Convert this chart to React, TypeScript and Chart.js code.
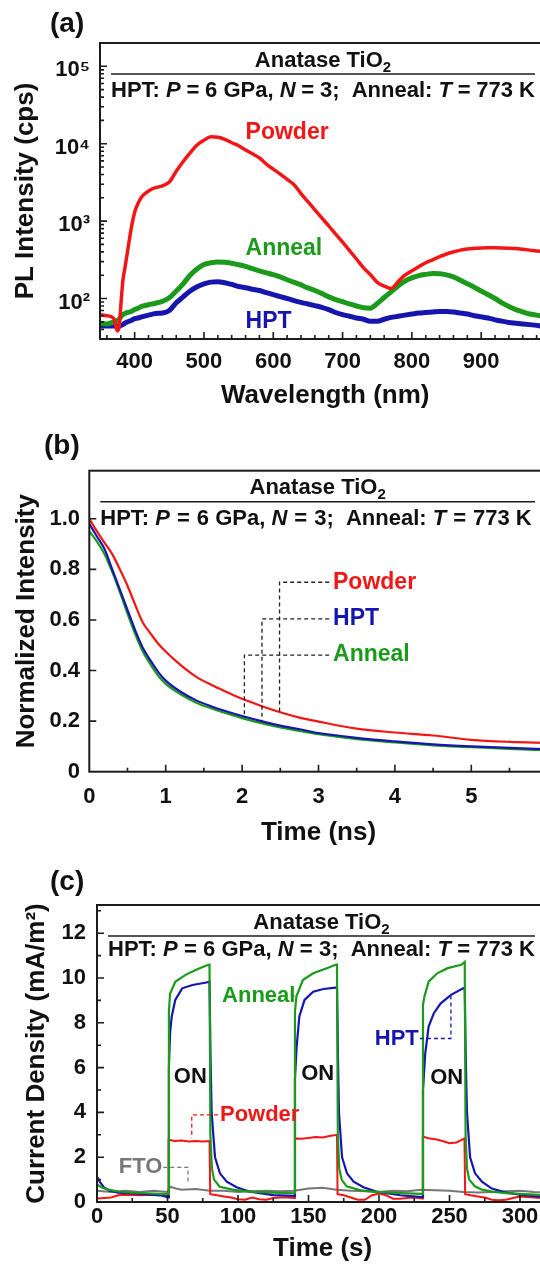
import React, { useEffect, useRef } from 'react';
import { Chart, registerables } from 'chart.js';

Chart.register(...registerables);

const FONT = "'Liberation Sans', Arial, Helvetica, sans-serif";
const RED = '#f21616';
const GREEN = '#1b9a1b';
const BLUE = '#1616ae';
const GRAY = '#777777';
const INK = '#111111';

// ---------- Panel (a): PL spectra ----------
const WAVELENGTH_NM = [350, 360, 370, 375, 378, 380, 383, 386, 390, 395, 400, 405, 410,
  420, 430, 440, 450, 460, 470, 480, 490, 500, 510, 520, 530, 540, 550, 560, 570, 580, 590, 600, 610,
  620, 630, 640, 650, 660, 670, 680, 690, 700, 710, 720, 730, 740, 750, 760, 770, 780, 790, 800, 810,
  820, 830, 840, 850, 860, 870, 880, 890, 900, 910, 920, 930, 940, 950, 960, 970, 980, 990, 1000];
const PL_POWDER = [62, 60, 55, 38, 45, 80, 170, 250, 420, 800, 1300, 1700, 2050,
  2450, 2700, 2850, 3200, 4400, 5900, 7600, 9600, 11100, 12300,
  12100, 11400, 10300, 9400, 8300, 7400, 6550, 5450, 4700, 4050,
  3450, 2950, 2270, 1780, 1400, 1100, 870, 680, 535, 417,
  324, 251, 204, 162, 145, 135, 165, 200, 228, 257,
  290, 316, 347, 376, 400, 422, 437, 445, 450, 452,
  452, 450, 447, 442, 432, 422, 412, 405, 400];
const PL_ANNEAL = [48, 47, 50, 52, 55, 58, 62, 64, 66, 68, 72, 75, 79,
  83, 87, 92, 102, 125, 155, 200, 240, 275, 290,
  297, 295, 285, 273, 260, 243, 228, 215, 203, 190,
  175, 162, 150, 137, 127, 116, 105, 97, 91, 85,
  80, 76, 75, 86, 103, 122, 145, 168, 185, 198,
  205, 210, 209, 202, 190, 172, 155, 140, 125, 112,
  100, 88, 79, 72, 67, 63, 61, 59, 58];
const PL_HPT = [45, 44, 44, 44, 44, 45, 46, 48, 50, 52, 55, 56, 58,
  61, 64, 65, 70, 88, 105, 125, 142, 155, 163,
  165, 160, 152, 143, 138, 132, 127, 119, 112, 106,
  100, 94, 89, 85, 81, 77, 72, 66, 62, 59,
  56, 54, 51, 51, 54, 57, 59, 61, 63, 65,
  66, 67, 68, 68, 67, 65, 63, 60, 58, 56,
  53, 51, 49, 48, 47, 46, 45, 44, 44];
const A_X_LABELS = [400, 500, 600, 700, 800, 900];
const A_Y_LABELS = [100, 1000, 10000, 100000];
const A_Y_TEXT: Record<number, string> = { 100: '10²', 1000: '10³', 10000: '10⁴', 100000: '10⁵' };

// ---------- Panel (b): PL decay ----------
const TIME_NS = [0, 0.1, 0.2, 0.3, 0.4, 0.5, 0.6, 0.7, 0.8, 0.9, 1.0, 1.2, 1.4, 1.6, 1.8, 2.0, 2.25, 2.5, 2.75, 3.0, 3.5, 4.0, 4.5, 5.0, 5.5, 6.0];
const DECAY_POWDER = [1.0, 0.95, 0.905, 0.86, 0.80, 0.735, 0.66, 0.59, 0.547, 0.507, 0.475, 0.42, 0.375, 0.343, 0.315, 0.288, 0.26, 0.235, 0.214, 0.198, 0.17, 0.155, 0.143, 0.126, 0.118, 0.114];
const DECAY_HPT = [0.98, 0.93, 0.88, 0.8, 0.72, 0.64, 0.56, 0.49, 0.44, 0.395, 0.36, 0.315, 0.282, 0.258, 0.238, 0.22, 0.2, 0.182, 0.168, 0.153, 0.134, 0.12, 0.108, 0.1, 0.094, 0.089];
const DECAY_ANNEAL = [0.95, 0.91, 0.86, 0.79, 0.71, 0.625, 0.545, 0.475, 0.425, 0.38, 0.347, 0.305, 0.273, 0.25, 0.23, 0.212, 0.192, 0.175, 0.161, 0.148, 0.129, 0.116, 0.104, 0.097, 0.09, 0.085];
const B_X_TICKS = [0, 1, 2, 3, 4, 5, 6];
const B_X_LABELS = [0, 1, 2, 3, 4, 5];
const B_Y_LABELS = [0, 0.2, 0.4, 0.6, 0.8, 1.0];

// ---------- Panel (c): photocurrent ----------
const ANNEAL_T = [0, 3, 8, 15, 25, 35, 45, 50.4,
  51.0, 51.8, 55.5, 62.8, 70, 77.5, 79.8,
  80.4, 81.5, 83, 87, 97, 108, 125, 139.8,
  140.4, 141.4, 146, 153.3, 163, 169.2, 170.2,
  170.8, 171.8, 173.5, 177, 187, 198, 215, 230.6,
  231.2, 232.2, 235.2, 241.3, 248.7, 258.4, 260.8,
  261.4, 262.4, 264, 268, 273, 280, 290, 300, 310, 320];
const ANNEAL_J = [0.78, 0.66, 0.55, 0.47, 0.42, 0.39, 0.36, 0.35,
  8.5, 9.3, 9.83, 10.14, 10.36, 10.56, 10.6,
  3.0, 1.5, 1.0, 0.68, 0.54, 0.46, 0.42, 0.39,
  8.5, 9.17, 9.91, 10.21, 10.44, 10.59, 10.6,
  3.0, 1.5, 1.0, 0.7, 0.52, 0.45, 0.4, 0.36,
  8.8, 9.17, 9.84, 10.21, 10.44, 10.59, 10.72,
  3.0, 1.5, 1.0, 0.7, 0.55, 0.46, 0.4, 0.36, 0.33, 0.3];
const HPT_T = [0, 2, 5, 9, 15, 25, 35, 45, 50.4,
  51.0, 51.8, 53, 55.5, 60.4, 67.7, 77.5, 79.8,
  80.5, 81.3, 83.7, 87.2, 92, 99, 108.5, 125, 139.8,
  140.4, 141.6, 143.5, 147.2, 153.3, 160.6, 169.2, 170.2,
  170.9, 171.6, 173.8, 177.3, 182, 189, 198.5, 215, 230.6,
  231.2, 232.8, 235.2, 238.9, 243.8, 251.1, 259.6, 260.8,
  261.5, 262.4, 264.6, 268.1, 273, 280, 290, 300, 310, 320];
const HPT_J = [1.13, 0.9, 0.65, 0.5, 0.42, 0.38, 0.34, 0.3, 0.2,
  6.0, 7.53, 8.28, 9.02, 9.54, 9.69, 9.8, 9.84,
  6.5, 4.0, 2.0, 1.28, 0.91, 0.66, 0.46, 0.31, 0.27,
  5.5, 6.94, 8.28, 9.02, 9.39, 9.51, 9.57, 9.57,
  6.5, 4.0, 2.0, 1.28, 0.91, 0.66, 0.46, 0.3, 0.22,
  5.0, 6.64, 7.83, 8.43, 8.87, 9.25, 9.54, 9.55,
  6.5, 4.0, 2.0, 1.28, 0.91, 0.6, 0.42, 0.33, 0.26, 0.22];
const POWDER_T = [0, 5, 10, 15, 20, 30, 40, 50.4,
  50.8, 55, 60, 65, 70, 75, 79.8,
  80.3, 85, 90, 95, 100, 105, 110, 115, 120, 125, 130, 135, 139.8,
  140.4, 145, 150, 155, 160, 165, 170.2,
  170.6, 175, 180, 185, 190, 195, 200, 205, 210, 215, 220, 225, 230.6,
  231.1, 235, 240, 245, 250, 255, 260.6,
  261.1, 265, 270, 275, 280, 285, 290, 295, 300, 305, 310, 315, 320];
const POWDER_J = [0.16, 0.18, 0.2, 0.3, 0.32, 0.3, 0.32, 0.3,
  2.78, 2.72, 2.75, 2.7, 2.72, 2.7, 2.72,
  0.35, 0.3, 0.25, 0.2, 0.12, 0.1, 0.2, 0.12, 0.1, 0.18, 0.2, 0.2, 0.18,
  2.84, 2.82, 2.86, 2.9, 2.88, 2.95, 3.0,
  0.35, 0.3, 0.2, 0.1, 0.1, 0.3, 0.38, 0.3, 0.15, 0.15, 0.18, 0.2, 0.16,
  2.92, 2.85, 2.8, 2.72, 2.62, 2.66, 2.84,
  0.35, 0.3, 0.25, 0.2, 0.1, 0.08, 0.1, 0.18, 0.25, 0.22, 0.2, 0.18, 0.16];
const FTO_T = [0, 10, 20, 30, 40, 50, 52, 56, 60, 70, 80, 90, 100, 110, 120, 130, 140, 150, 160, 170, 180, 190, 200, 210, 220, 230, 240, 250, 260, 270, 280, 290, 300, 310, 320];
const FTO_J = [0.5, 0.45, 0.5, 0.45, 0.5, 0.45, 0.68, 0.6, 0.55, 0.58, 0.5, 0.5, 0.45, 0.48, 0.5, 0.48, 0.5, 0.6, 0.64, 0.55, 0.5, 0.48, 0.45, 0.5, 0.48, 0.55, 0.52, 0.5, 0.45, 0.42, 0.45, 0.48, 0.5, 0.45, 0.44];
const C_X_LABELS = [0, 50, 100, 150, 200, 250, 300];
const C_Y_LABELS = [0, 2, 4, 6, 8, 10, 12];

// ---------- shared header text ----------
type Seg = { t?: string; it?: boolean; sub?: boolean; gap?: boolean };
const HEADER_TITLE: Seg[] = [{ t: 'Anatase TiO' }, { t: '2', sub: true }];
const HEADER_SUB: Seg[] = [
  { t: 'HPT: ' }, { t: 'P', it: true }, { gap: true }, { t: '=' }, { gap: true }, { t: '6 GPa, ' },
  { t: 'N', it: true }, { gap: true }, { t: '=' }, { gap: true }, { t: '3;  Anneal: ' },
  { t: 'T', it: true }, { gap: true }, { t: '=' }, { gap: true }, { t: '773 K' },
];

function range(a: number, b: number, s: number) {
  const out: number[] = [];
  for (let v = a; v <= b + 1e-9; v += s) out.push(Math.round(v * 1000) / 1000);
  return out;
}
function logMinor(lo: number, hi: number) {
  const out: number[] = [];
  for (let d = 10; d <= hi; d *= 10) for (let k = 2; k <= 9; k++) { const v = k * d; if (v >= lo && v <= hi) out.push(v); }
  return out;
}

function drawRich(ctx: CanvasRenderingContext2D, segs: Seg[], x: number, y: number, size: number, align: 'left' | 'center', target?: number) {
  const items = segs.map((s) => {
    if (s.gap) return { ...s, w: 0, fs: size };
    const fs = s.sub ? Math.round(size * 0.68) : size;
    ctx.font = `${s.it ? 'italic ' : ''}bold ${fs}px ${FONT}`;
    return { ...s, fs, w: ctx.measureText(s.t || '').width };
  });
  const textW = items.reduce((a, b) => a + b.w, 0);
  const nGaps = items.filter((i) => i.gap).length;
  let gap = 3;
  if (target && nGaps) gap = Math.max(1.5, Math.min(7, (target - textW) / nGaps));
  const total = textW + gap * nGaps;
  let cx = align === 'center' ? x - total / 2 : x;
  ctx.textAlign = 'left';
  ctx.textBaseline = 'alphabetic';
  for (const it of items) {
    if (it.gap) { cx += gap; continue; }
    ctx.font = `${it.it ? 'italic ' : ''}bold ${it.fs}px ${FONT}`;
    ctx.fillText(it.t || '', cx, y + (it.sub ? size * 0.24 : 0));
    cx += it.w;
  }
}

type Label = { text: string; x: number; y: number; color: string; align?: 'left' | 'center'; size?: number };
type Leader = { pts: [number, number][]; color: string };
type Panel = {
  key: string;
  canvasTop: number;
  height: number;
  padTop: number;
  padRight: number;
  yWidth: number;
  xHeight: number;
  panelLabel: string;
  panelXY: [number, number];
  subOffset: number;
  xMajor: number[];
  xMinor: number[];
  yMajor: number[];
  yMinor: number[];
  labels: Label[];
  leaders: Leader[];
  scales: any;
  datasets: any[];
};

function decorPlugin(p: Panel) {
  return {
    id: 'decor_' + p.key,
    afterDraw(chart: any) {
      const { ctx, chartArea } = chart;
      const { left, top, right, bottom } = chartArea;
      const xs = chart.scales.x;
      const ys = chart.scales.y;
      ctx.save();
      // frame
      ctx.strokeStyle = '#1c1c1c';
      ctx.lineWidth = 2;
      ctx.strokeRect(left, top, right - left, bottom - top);
      // inward ticks
      ctx.lineWidth = 1.6;
      ctx.beginPath();
      const xt = (vals: number[], len: number) => {
        for (const v of vals) {
          const px = xs.getPixelForValue(v);
          if (px < left + 1 || px > right - 1) continue;
          ctx.moveTo(px, bottom); ctx.lineTo(px, bottom - len);
        }
      };
      const yt = (vals: number[], len: number) => {
        for (const v of vals) {
          const py = ys.getPixelForValue(v);
          if (py < top + 1 || py > bottom - 1) continue;
          ctx.moveTo(left, py); ctx.lineTo(left + len, py);
        }
      };
      xt(p.xMajor, 7); xt(p.xMinor, 4); yt(p.yMajor, 7); yt(p.yMinor, 4);
      ctx.stroke();
      // header
      const x0 = left + 11;
      const x1 = 535;
      ctx.fillStyle = INK;
      drawRich(ctx, HEADER_TITLE, (x0 + x1) / 2, top + 23.5, 22, 'center');
      ctx.beginPath();
      ctx.lineWidth = 1.6;
      ctx.moveTo(x0, top + 31); ctx.lineTo(x1, top + 31);
      ctx.stroke();
      drawRich(ctx, HEADER_SUB, x0, top + p.subOffset, 22, 'left', x1 - x0);
      // panel label
      ctx.font = `bold 28px ${FONT}`;
      ctx.textAlign = 'left';
      ctx.textBaseline = 'middle';
      ctx.fillText(p.panelLabel, p.panelXY[0], p.panelXY[1]);
      // leaders
      ctx.setLineDash([4, 3]);
      ctx.lineWidth = 1.3;
      for (const ld of p.leaders) {
        ctx.strokeStyle = ld.color;
        ctx.beginPath();
        ld.pts.forEach(([vx, vy], i) => {
          const px = xs.getPixelForValue(vx);
          const py = ys.getPixelForValue(vy);
          if (i === 0) ctx.moveTo(px, py); else ctx.lineTo(px, py);
        });
        ctx.stroke();
      }
      ctx.setLineDash([]);
      // labels
      for (const lb of p.labels) {
        ctx.font = `bold ${lb.size || 23}px ${FONT}`;
        ctx.fillStyle = lb.color;
        ctx.textAlign = lb.align || 'left';
        ctx.textBaseline = 'middle';
        ctx.fillText(lb.text, xs.getPixelForValue(lb.x), ys.getPixelForValue(lb.y));
      }
      ctx.restore();
    },
  };
}

const tickFont = { family: FONT, size: 22, weight: 'bold' as const };
const titleFont = { family: FONT, size: 26, weight: 'bold' as const };

function xy(xs: number[], ys: number[]) {
  return xs.map((x, i) => ({ x, y: ys[i] }));
}
function line(data: any[], color: string, width: number, mono = true) {
  return {
    data, borderColor: color, backgroundColor: color, borderWidth: width, pointRadius: 0,
    fill: false, cubicInterpolationMode: mono ? 'monotone' : 'default', tension: 0,
  };
}

const PANELS: Panel[] = [
  {
    key: 'a', canvasTop: 0, height: 420, padTop: 43, padRight: 9.5, yWidth: 100, xHeight: 81,
    panelLabel: '(a)', panelXY: [50, 24], subOffset: 53.7,
    xMajor: range(400, 1000, 100), xMinor: range(360, 1000, 20).filter((v) => v % 100 !== 0),
    yMajor: A_Y_LABELS, yMinor: logMinor(30, 200000),
    labels: [
      { text: 'Powder', x: 560, y: 14000, color: RED },
      { text: 'Anneal', x: 560, y: 446, color: GREEN },
      { text: 'HPT', x: 560, y: 50, color: BLUE },
    ],
    leaders: [],
    scales: {
      x: {
        type: 'linear', min: 350, max: 1000, labels: A_X_LABELS, tickPad: 10,
        title: 'Wavelength (nm)', titlePad: 8.4, fmt: (v: number) => String(v),
      },
      y: {
        type: 'logarithmic', min: 30, max: 200000, labels: A_Y_LABELS, tickPad: 10, labelOffset: 4,
        title: 'PL Intensity (cps)', titlePad: 10.4, fmt: (v: number) => A_Y_TEXT[v] || '',
      },
    },
    datasets: [
      line(xy(WAVELENGTH_NM, PL_POWDER), RED, 3.5),
      line(xy(WAVELENGTH_NM, PL_ANNEAL), GREEN, 5),
      line(xy(WAVELENGTH_NM, PL_HPT), BLUE, 5),
    ],
  },
  {
    key: 'b', canvasTop: 420, height: 430, padTop: 50.7, padRight: 12.3, yWidth: 89.3, xHeight: 78.3,
    panelLabel: '(b)', panelXY: [44, 26], subOffset: 54.3,
    xMajor: B_X_TICKS, xMinor: range(0.5, 6, 1),
    yMajor: B_Y_LABELS, yMinor: [],
    labels: [
      { text: 'Powder', x: 3.19, y: 0.749, color: RED },
      { text: 'HPT', x: 3.19, y: 0.604, color: BLUE },
      { text: 'Anneal', x: 3.19, y: 0.461, color: GREEN },
    ],
    leaders: [
      { pts: [[3.14, 0.749], [2.49, 0.749], [2.49, 0.237]], color: '#222' },
      { pts: [[3.14, 0.604], [2.26, 0.604], [2.26, 0.198]], color: '#222' },
      { pts: [[3.14, 0.461], [2.03, 0.461], [2.03, 0.212]], color: '#222' },
    ],
    scales: {
      x: {
        type: 'linear', min: 0, max: 6, labels: B_X_LABELS, tickPad: 11.8,
        title: 'Time (ns)', titlePad: 1.4, fmt: (v: number) => String(v),
      },
      y: {
        type: 'linear', min: 0, max: 1.19, labels: B_Y_LABELS, tickPad: 9.3, labelOffset: 0,
        title: 'Normalized Intensity', titlePad: 11.4, fmt: (v: number) => (v === 0 ? '0' : v.toFixed(1)),
      },
    },
    datasets: [
      line(xy(TIME_NS, DECAY_POWDER), RED, 2.2),
      line(xy(TIME_NS, DECAY_HPT), BLUE, 2.2),
      line(xy(TIME_NS, DECAY_ANNEAL), GREEN, 2.2),
    ],
  },
  {
    key: 'c', canvasTop: 850, height: 426, padTop: 55, padRight: 11.8, yWidth: 97, xHeight: 74,
    panelLabel: '(c)', panelXY: [50, 32], subOffset: 51,
    xMajor: C_X_LABELS, xMinor: range(25, 325, 50),
    yMajor: C_Y_LABELS, yMinor: range(1, 13, 2),
    labels: [
      { text: 'ON', x: 66.2, y: 5.6, color: INK, align: 'center', size: 22 },
      { text: 'ON', x: 156.5, y: 5.72, color: INK, align: 'center', size: 22 },
      { text: 'ON', x: 248, y: 5.52, color: INK, align: 'center', size: 22 },
      { text: 'Anneal', x: 88.7, y: 9.2, color: GREEN, size: 22 },
      { text: 'HPT', x: 197, y: 7.3, color: BLUE, size: 22 },
      { text: 'Powder', x: 87.2, y: 3.89, color: RED, size: 22 },
      { text: 'FTO', x: 15.5, y: 1.55, color: GRAY, size: 22 },
    ],
    leaders: [
      { pts: [[137.5, 9.2], [140, 9.2]], color: '#333' },
      { pts: [[229, 7.3], [251, 7.3], [251, 9.3]], color: BLUE },
      { pts: [[85.8, 3.89], [67.2, 3.89], [67.2, 2.85]], color: RED },
      { pts: [[47, 1.55], [64.5, 1.55], [64.5, 0.78]], color: GRAY },
    ],
    scales: {
      x: {
        type: 'linear', min: 0, max: 320, labels: C_X_LABELS, tickPad: 1.5,
        title: 'Time (s)', titlePad: 11.4, fmt: (v: number) => String(v),
      },
      y: {
        type: 'linear', min: 0, max: 13.26, labels: C_Y_LABELS, tickPad: 11, labelOffset: 0,
        title: 'Current Density (mA/m²)', titlePad: 21, fmt: (v: number) => String(v),
      },
    },
    datasets: [
      line(xy(ANNEAL_T, ANNEAL_J), GREEN, 2.2, false),
      line(xy(HPT_T, HPT_J), BLUE, 2.2, false),
      line(xy(POWDER_T, POWDER_J), RED, 2.0, false),
      line(xy(FTO_T, FTO_J), GRAY, 2.0, false),
    ],
  },
];

function buildConfig(p: Panel): any {
  const sx = p.scales.x;
  const sy = p.scales.y;
  return {
    type: 'line',
    data: { datasets: p.datasets },
    options: {
      animation: false,
      responsive: false,
      devicePixelRatio: 1,
      events: [],
      layout: { padding: { left: 0, top: p.padTop, right: p.padRight, bottom: 0 } },
      plugins: { legend: { display: false }, tooltip: { enabled: false }, title: { display: false } },
      scales: {
        x: {
          type: sx.type, min: sx.min, max: sx.max,
          grid: { display: false, drawTicks: false },
          border: { display: false },
          afterBuildTicks: (s: any) => { s.ticks = sx.labels.map((v: number) => ({ value: v })); },
          afterFit: (s: any) => { s.height = p.xHeight; },
          ticks: {
            autoSkip: false, maxRotation: 0, minRotation: 0, padding: sx.tickPad, color: INK, font: tickFont,
            callback: (v: any) => sx.fmt(Number(v)),
          },
          title: { display: true, text: sx.title, color: INK, font: titleFont, padding: { top: 0, bottom: sx.titlePad } },
        },
        y: {
          type: sy.type, min: sy.min, max: sy.max,
          grid: { display: false, drawTicks: false },
          border: { display: false },
          afterBuildTicks: (s: any) => { s.ticks = sy.labels.map((v: number) => ({ value: v })); },
          afterFit: (s: any) => { s.width = p.yWidth; },
          ticks: {
            autoSkip: false, padding: sy.tickPad, color: INK, font: tickFont, labelOffset: sy.labelOffset,
            callback: (v: any) => sy.fmt(Number(v)),
          },
          title: { display: true, text: sy.title, color: INK, font: titleFont, padding: { top: sy.titlePad, bottom: 0 } },
        },
      },
    },
    plugins: [decorPlugin(p)],
  };
}

function PanelCanvas({ panel }: { panel: Panel }) {
  const ref = useRef<HTMLCanvasElement | null>(null);
  useEffect(() => {
    if (!ref.current) return;
    const chart = new Chart(ref.current, buildConfig(panel));
    return () => chart.destroy();
  }, [panel]);
  return (
    <canvas
      ref={ref}
      width={560}
      height={panel.height}
      style={{ position: 'absolute', left: 0, top: panel.canvasTop, width: 560, height: panel.height, display: 'block' }}
    />
  );
}

export default function App() {
  return (
    <div style={{ position: 'absolute', left: 0, top: 0, width: 540, height: 1276, overflow: 'hidden', background: '#ffffff' }}>
      {PANELS.map((p) => (
        <PanelCanvas key={p.key} panel={p} />
      ))}
    </div>
  );
}
